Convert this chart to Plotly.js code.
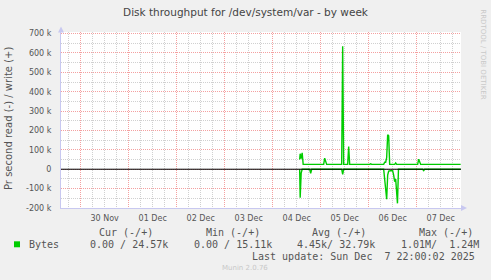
<!DOCTYPE html>
<html>
<head>
<meta charset="utf-8">
<script src="https://cdn.plot.ly/plotly-3.0.1.min.js"></script>
<style>
html,body{margin:0;padding:0;background:#f0f0f0;}
#chart{width:491px;height:280px;}
</style>
</head>
<body>
<div id="chart"></div>
<script>
// ---- data ----
const writeTimes = [
  '2025-12-04 13:30','2025-12-04 13:45','2025-12-04 14:15','2025-12-04 14:45','2025-12-04 15:15',
  '2025-12-04 18:00','2025-12-04 18:30','2025-12-04 19:00',
  '2025-12-04 21:30','2025-12-04 22:00','2025-12-04 22:30',
  '2025-12-05 01:30','2025-12-05 02:00','2025-12-05 02:30','2025-12-05 03:00',
  '2025-12-05 05:00','2025-12-05 05:30','2025-12-05 06:00',
  '2025-12-05 10:30','2025-12-05 11:00','2025-12-05 11:30',
  '2025-12-05 13:30','2025-12-05 14:00','2025-12-05 14:30',
  '2025-12-06 00:30','2025-12-06 01:00','2025-12-06 01:30',
  '2025-12-06 02:30','2025-12-06 03:00','2025-12-06 03:30',
  '2025-12-06 07:30','2025-12-06 08:00','2025-12-06 08:30','2025-12-06 09:00','2025-12-06 09:30','2025-12-06 10:00','2025-12-06 10:30',
  '2025-12-06 13:00','2025-12-06 13:30','2025-12-06 14:00',
  '2025-12-07 00:30','2025-12-07 01:00','2025-12-07 01:30','2025-12-07 02:00',
  '2025-12-07 22:00'
];
const writeValues = [
  50000, 80000, 55000, 85000, 25000,
  25000, 28000, 25000,
  25000, 28000, 25000,
  25000, 57000, 40000, 25000,
  25000, 27000, 25000,
  25000, 635000, 25000,
  25000, 117000, 25000,
  25000, 28000, 25000,
  25000, 28000, 25000,
  25000, 36000, 36000, 60000, 178000, 172000, 25000,
  25000, 32000, 25000,
  25000, 52000, 38000, 25000,
  25000
];
const readTimes = [
  '2025-12-04 13:30','2025-12-04 13:45','2025-12-04 14:15','2025-12-04 14:45',
  '2025-12-04 18:30','2025-12-04 19:00','2025-12-04 19:30',
  '2025-12-05 10:30','2025-12-05 11:00','2025-12-05 11:30',
  '2025-12-06 07:30','2025-12-06 08:00','2025-12-06 08:30','2025-12-06 09:00','2025-12-06 09:30','2025-12-06 10:00',
  '2025-12-06 11:00','2025-12-06 12:00','2025-12-06 12:30','2025-12-06 13:00','2025-12-06 13:30','2025-12-06 14:00','2025-12-06 14:24','2025-12-06 14:54',
  '2025-12-07 03:00','2025-12-07 03:30','2025-12-07 04:00',
  '2025-12-07 22:00'
];
const readValues = [
  0, -147000, -20000, 0,
  0, -21000, 0,
  0, -26000, 0,
  0, -55000, -75000, -155000, -30000, -10000,
  -8000, -8000, -30000, -64000, -50000, -120000, -176000, 0,
  0, -7000, 0,
  0
];
const yTickValues = [700000, 600000, 500000, 400000, 300000, 200000, 100000, 0, -100000, -200000];
const yTickLabels = ['700 k','600 k','500 k','400 k','300 k','200 k','100 k','0','-100 k','-200 k'];
const legendHeaders = ['Cur (-/+)', 'Min (-/+)', 'Avg (-/+)', 'Max (-/+)'];
const legendValues = ['0.00 / 24.57k', '0.00 / 15.11k', '4.45k/ 32.79k', '1.01M/  1.24M'];
const seriesName = 'Bytes';
const titleText = 'Disk throughput for /dev/system/var - by week';
const yTitleText = 'Pr second read (-) / write (+)';
const lastUpdate = 'Last update: Sun Dec  7 22:00:02 2025';

// ---- layout helpers (pixel -> paper) ----
const L = 61, T = 31.5, W = 400, H = 177;
const px = x => (x - L) / W;
const py = y => (T + H - y) / H;
const green = '#00cc00';
const mono = 'DejaVu Sans Mono, monospace';
const sans = 'DejaVu Sans, sans-serif';

const traces = [
  {x: readTimes, y: readValues, type: 'scatter', mode: 'lines', line: {color: green, width: 1.4}, hoverinfo: 'skip'},
  {x: writeTimes, y: writeValues, type: 'scatter', mode: 'lines', line: {color: green, width: 1.4}, hoverinfo: 'skip'}
];

const annotations = [];
function txt(text, x, y, opts) {
  annotations.push(Object.assign({text: text, x: px(x), y: py(y), xref: 'paper', yref: 'paper',
    showarrow: false, xanchor: 'left', yanchor: 'middle',
    font: {family: mono, size: 10, color: '#555'}}, opts || {}));
}
txt(yTitleText, 8.5, 118.5, {xanchor: 'center', textangle: -90, font: {family: sans, size: 10, color: '#555'}});
txt('RRDTOOL / TOBI OETIKER', 483, 54, {xanchor: 'center', textangle: 90, font: {family: sans, size: 7, color: '#c8c8c8'}});
const headerX = [96.5, 204, 310, 416.5];
const valueX = [88, 192.3, 295, 399.3];
legendHeaders.forEach((h, i) => txt(h, headerX[i], 233));
txt(seriesName, 27, 245);
legendValues.forEach((v, i) => txt(v, valueX[i], 245));
txt(lastUpdate, 477, 257, {xanchor: 'right'});
txt('Munin 2.0.76', 245, 268.5, {xanchor: 'center', font: {family: sans, size: 7, color: '#c8c8c8'}});

const axisCol = '#c8c8f0';
const shapes = [
  {type: 'line', xref: 'paper', yref: 'y', x0: 0, x1: 1, y0: 0, y1: 0, line: {color: '#000', width: 1}, layer: 'above'},
  {type: 'path', xref: 'paper', yref: 'paper',
   path: `M ${px(58)} ${py(32)} L ${px(64)} ${py(32)} L ${px(61)} ${py(26)} Z`, fillcolor: axisCol, line: {width: 0}},
  {type: 'path', xref: 'paper', yref: 'paper',
   path: `M ${px(461)} ${py(205.5)} L ${px(461)} ${py(211.5)} L ${px(467)} ${py(208.5)} Z`, fillcolor: axisCol, line: {width: 0}},
  {type: 'rect', xref: 'paper', yref: 'paper', x0: px(14), x1: px(20), y0: py(248), y1: py(242), fillcolor: green, line: {width: 0}}
];

const layout = {
  width: 491, height: 280,
  margin: {l: L, r: 491 - L - W, t: T, b: 280 - T - H, pad: 0},
  paper_bgcolor: '#f0f0f0', plot_bgcolor: '#ffffff',
  showlegend: false,
  title: {text: titleText, x: 0.5, xanchor: 'center', y: 1 - 12 / 280, yanchor: 'middle', yref: 'container',
          font: {family: sans, size: 10.5, color: '#444'}},
  xaxis: {
    type: 'date', range: ['2025-11-29 14:10', '2025-12-07 22:10'],
    tickmode: 'linear', tick0: '2025-11-30', dtick: 86400000,
    ticklabelmode: 'period', tickformat: '%d %b',
    ticks: 'outside', ticklen: 2, tickcolor: 'rgba(0,0,0,0)',
    tickfont: {family: sans, size: 8, color: '#555'},
    showgrid: true, gridcolor: '#f4a0a0', griddash: '1px,1px', gridwidth: 1,
    minor: {dtick: 6 * 3600000, tick0: '2025-11-30', showgrid: true, gridcolor: '#d0d0d0', griddash: '1px,1px', gridwidth: 1},
    showline: true, linecolor: axisCol, linewidth: 1,
    zeroline: false, fixedrange: true
  },
  yaxis: {
    range: [-200000, 708000],
    tickmode: 'array', tickvals: yTickValues, ticktext: yTickLabels,
    ticks: 'outside', ticklen: 7, tickcolor: 'rgba(0,0,0,0)',
    tickfont: {family: sans, size: 8, color: '#555'},
    showgrid: true, gridcolor: '#f4a0a0', griddash: '1px,1px', gridwidth: 1,
    minor: {tickmode: 'linear', tick0: 0, dtick: 50000, showgrid: true, gridcolor: '#d0d0d0', griddash: '1px,1px', gridwidth: 1},
    showline: true, linecolor: axisCol, linewidth: 1,
    zeroline: false, fixedrange: true
  },
  annotations: annotations,
  shapes: shapes
};

Plotly.newPlot('chart', traces, layout, {staticPlot: true, displayModeBar: false});
</script>
</body>
</html>
